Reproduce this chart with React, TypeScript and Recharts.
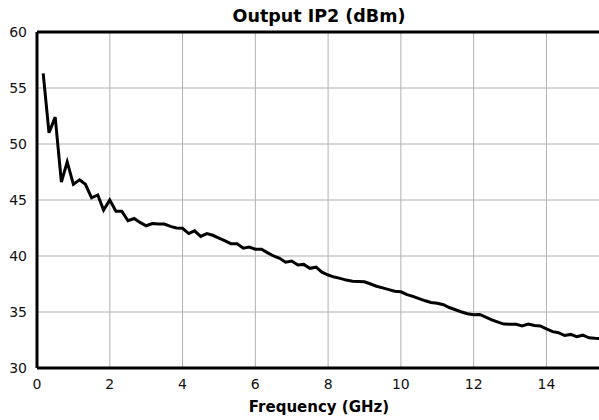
import { LineChart, Line, XAxis, YAxis, CartesianGrid, ReferenceLine } from "recharts";

// frequency points in GHz (1/6 GHz step)
const freqs = [
  0.17, 0.33, 0.5, 0.67, 0.83, 1.0,
  1.17, 1.33, 1.5, 1.67, 1.83, 2.0,
  2.17, 2.33, 2.5, 2.67, 2.83, 3.0,
  3.17, 3.33, 3.5, 3.67, 3.83, 4.0,
  4.17, 4.33, 4.5, 4.67, 4.83, 5.0,
  5.17, 5.33, 5.5, 5.67, 5.83, 6.0,
  6.17, 6.33, 6.5, 6.67, 6.83, 7.0,
  7.17, 7.33, 7.5, 7.67, 7.83, 8.0,
  8.17, 8.33, 8.5, 8.67, 8.83, 9.0,
  9.17, 9.33, 9.5, 9.67, 9.83, 10.0,
  10.17, 10.33, 10.5, 10.67, 10.83, 11.0,
  11.17, 11.33, 11.5, 11.67, 11.83, 12.0,
  12.17, 12.33, 12.5, 12.67, 12.83, 13.0,
  13.17, 13.33, 13.5, 13.67, 13.83, 14.0,
  14.17, 14.33, 14.5, 14.67, 14.83, 15.0,
  15.17, 15.33, 15.5,
];

// output IP2 in dBm
const ip2 = [
  56.3, 51.0, 52.4, 46.6, 48.4, 46.4,
  46.8, 46.4, 45.2, 45.45, 44.1, 45.0,
  44.0, 44.0, 43.15, 43.35, 43.0, 42.7,
  42.9, 42.85, 42.85, 42.65, 42.5, 42.47,
  42.0, 42.25, 41.75, 42.0, 41.85, 41.6,
  41.35, 41.1, 41.1, 40.7, 40.8, 40.6,
  40.6, 40.3, 40.0, 39.8, 39.45, 39.55,
  39.2, 39.25, 38.9, 39.0, 38.55, 38.3,
  38.12, 38.0, 37.85, 37.75, 37.72, 37.7,
  37.5, 37.3, 37.15, 37.0, 36.85, 36.8,
  36.55, 36.4, 36.2, 36.0, 35.85, 35.78,
  35.65, 35.4, 35.2, 35.0, 34.85, 34.75,
  34.78, 34.55, 34.3, 34.1, 33.92, 33.9,
  33.9, 33.75, 33.92, 33.8, 33.75, 33.5,
  33.25, 33.15, 32.9, 33.0, 32.8, 32.93,
  32.7, 32.65, 32.63,
];

const xTicks = [0, 2, 4, 6, 8, 10, 12, 14];
const yTicks = [30, 35, 40, 45, 50, 55, 60];

const data = freqs.map((f, i) => ({ freq: f, ip2: ip2[i] }));

const FONT = "'DejaVu Sans', sans-serif";

export default function App() {
  return (
    <div
      style={{
        position: "absolute",
        left: 0,
        top: 0,
        width: 599,
        height: 420,
        overflow: "hidden",
        background: "white",
        fontFamily: FONT,
      }}
    >
      <LineChart width={610} height={420} data={data} margin={{ top: 32, right: 9, bottom: 22, left: 0 }}>
        <CartesianGrid stroke="#b0b0b0" strokeWidth={1} />
        <XAxis
          dataKey="freq"
          type="number"
          domain={[0, 15.5]}
          ticks={xTicks}
          height={30}
          tickLine={false}
          tickMargin={5}
          axisLine={{ stroke: "#000", strokeWidth: 3 }}
          tick={{ fontSize: 14, fill: "#111", fontFamily: FONT }}
          label={{
            value: "Frequency (GHz)",
            position: "bottom",
            offset: 3,
            style: { fontSize: 15, fontWeight: "bold", fill: "#000", fontFamily: FONT },
          }}
        />
        <YAxis
          type="number"
          domain={[30, 60]}
          ticks={yTicks}
          width={37}
          tickLine={false}
          tickMargin={4}
          axisLine={{ stroke: "#000", strokeWidth: 3 }}
          tick={{ fontSize: 14, fill: "#111", fontFamily: FONT }}
        />
        <ReferenceLine
          y={60}
          stroke="#000"
          strokeWidth={3}
          label={{
            value: "Output IP2 (dBm)",
            position: "top",
            offset: 10,
            style: { fontSize: 17.5, fontWeight: "bold", fill: "#000", fontFamily: FONT },
          }}
        />
        <Line
          type="linear"
          dataKey="ip2"
          stroke="#000"
          strokeWidth={3}
          dot={false}
          isAnimationActive={false}
        />
      </LineChart>
    </div>
  );
}
